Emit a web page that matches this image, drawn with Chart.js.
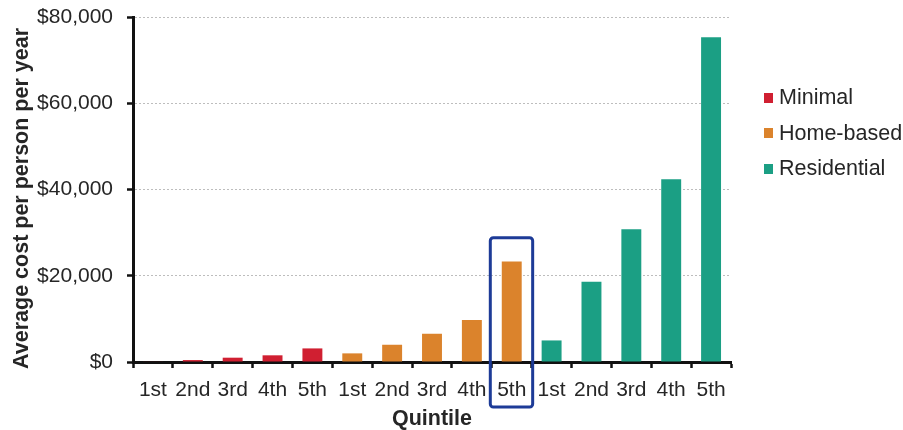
<!DOCTYPE html>
<html>
<head>
<meta charset="utf-8">
<script src="https://cdn.jsdelivr.net/npm/chart.js@4"></script>
<style>
  html, body { margin: 0; padding: 0; background: #ffffff; }
  #wrap { position: relative; width: 903px; height: 430px; }
  #legend { position: absolute; left: 764px; top: 80px; font-family: "Liberation Sans", Arial, sans-serif; font-size: 21.5px; color: #262626; }
  #legend .item { display: flex; align-items: center; height: 35.5px; white-space: nowrap; }
  #legend .swatch { width: 9px; height: 10px; margin-right: 6px; flex: none; }
</style>
</head>
<body>
<div id="wrap">
  <canvas id="chart" width="903" height="430"></canvas>
  <div id="legend"></div>
</div>
<script>
// Care levels and quintile labels
const quintiles = ['1st', '2nd', '3rd', '4th', '5th'];
const careLevels = ['Minimal', 'Home-based', 'Residential'];

// Average cost per person per year, by quintile, for each care level
const minimal = [100, 450, 1000, 1550, 3150];
const homeBased = [2000, 4000, 6550, 9750, 23300];
const residential = [5000, 18600, 30800, 42400, 75300];

// y-axis ticks
const yTicks = [0, 20000, 40000, 60000, 80000];

// highlighted column (Home-based, 5th quintile) and the value its frame reaches up to
const highlightIndex = 9;
const highlightTop = 28800;

const colors = ['#d01f31', '#db832c', '#1b9f84'];
const groups = [minimal, homeBased, residential];

const labels = [].concat(quintiles, quintiles, quintiles);
const datasets = groups.map((vals, g) => {
  const data = labels.map(() => null);
  vals.forEach((v, i) => { data[g * quintiles.length + i] = v; });
  return {
    label: careLevels[g],
    data: data,
    backgroundColor: colors[g],
    borderWidth: 0,
    barPercentage: 0.5,
    categoryPercentage: 1.0,
    grouped: false
  };
});

const fontFamily = '"Liberation Sans", Arial, sans-serif';

// Frame around the highlighted column, reaching down over its tick label
const highlightFrame = {
  id: 'highlightFrame',
  afterDraw(chart) {
    const x = chart.scales.x, y = chart.scales.y;
    const step = x.width / chart.data.labels.length;
    const cx = x.getPixelForValue(highlightIndex);
    const left = cx - step / 2 - 1.5;
    const right = cx + step / 2 + 1;
    const top = y.getPixelForValue(highlightTop);
    const bottom = chart.chartArea.bottom + 45;
    const ctx = chart.ctx;
    ctx.save();
    ctx.strokeStyle = '#1d3b97';
    ctx.lineWidth = 3;
    ctx.beginPath();
    ctx.roundRect(left, top, right - left, bottom - top, 3);
    ctx.stroke();
    ctx.restore();
  }
};

const chart = new Chart(document.getElementById('chart'), {
  type: 'bar',
  data: { labels: labels, datasets: datasets },
  plugins: [highlightFrame],
  options: {
    responsive: false,
    animation: false,
    layout: { padding: { left: 0, right: 172, top: 17, bottom: 0 } },
    plugins: {
      legend: { display: false },
      tooltip: { enabled: false }
    },
    scales: {
      x: {
        grid: {
          display: true,
          offset: true,
          drawOnChartArea: false,
          drawTicks: true,
          tickLength: 6,
          tickColor: '#111111',
          tickWidth: 2.5
        },
        border: { display: true, color: '#111111', width: 3 },
        ticks: {
          color: '#262626',
          font: { family: fontFamily, size: 21 },
          padding: 10,
          maxRotation: 0,
          autoSkip: false
        },
        title: {
          display: true,
          text: 'Quintile',
          color: '#262626',
          font: { family: fontFamily, size: 21.5, weight: 'bold', lineHeight: 1 },
          padding: { top: 0, bottom: 0 }
        },
        afterFit(scale) { scale.height = 68; }
      },
      y: {
        min: 0,
        max: 80000,
        afterBuildTicks(scale) { scale.ticks = yTicks.map(v => ({ value: v })); },
        grid: {
          color: '#bdbdbd',
          lineWidth: 1,
          drawTicks: true,
          tickLength: 6,
          tickColor: '#111111',
          tickWidth: 2.5
        },
        border: { display: true, color: '#111111', width: 3, dash: [2, 2] },
        ticks: {
          color: '#262626',
          font: { family: fontFamily, size: 21 },
          padding: 14,
          callback: v => '$' + Number(v).toLocaleString('en-US')
        },
        title: {
          display: true,
          text: 'Average cost per person per year   ',
          color: '#262626',
          font: { family: fontFamily, size: 21.5, weight: 'bold', lineHeight: 1 },
          padding: { top: 11, bottom: 0 }
        },
        afterFit(scale) {
          scale.width = 133;
          // only half a label height is needed above the top tick
          scale.paddingTop = 12;
          scale.paddingBottom = 12;
        }
      }
    }
  }
});

// Legend built from the chart's own datasets
const legend = document.getElementById('legend');
chart.data.datasets.forEach(ds => {
  const item = document.createElement('div');
  item.className = 'item';
  const sw = document.createElement('span');
  sw.className = 'swatch';
  sw.style.background = ds.backgroundColor;
  const tx = document.createElement('span');
  tx.textContent = ds.label;
  item.appendChild(sw);
  item.appendChild(tx);
  legend.appendChild(item);
});
</script>
</body>
</html>
